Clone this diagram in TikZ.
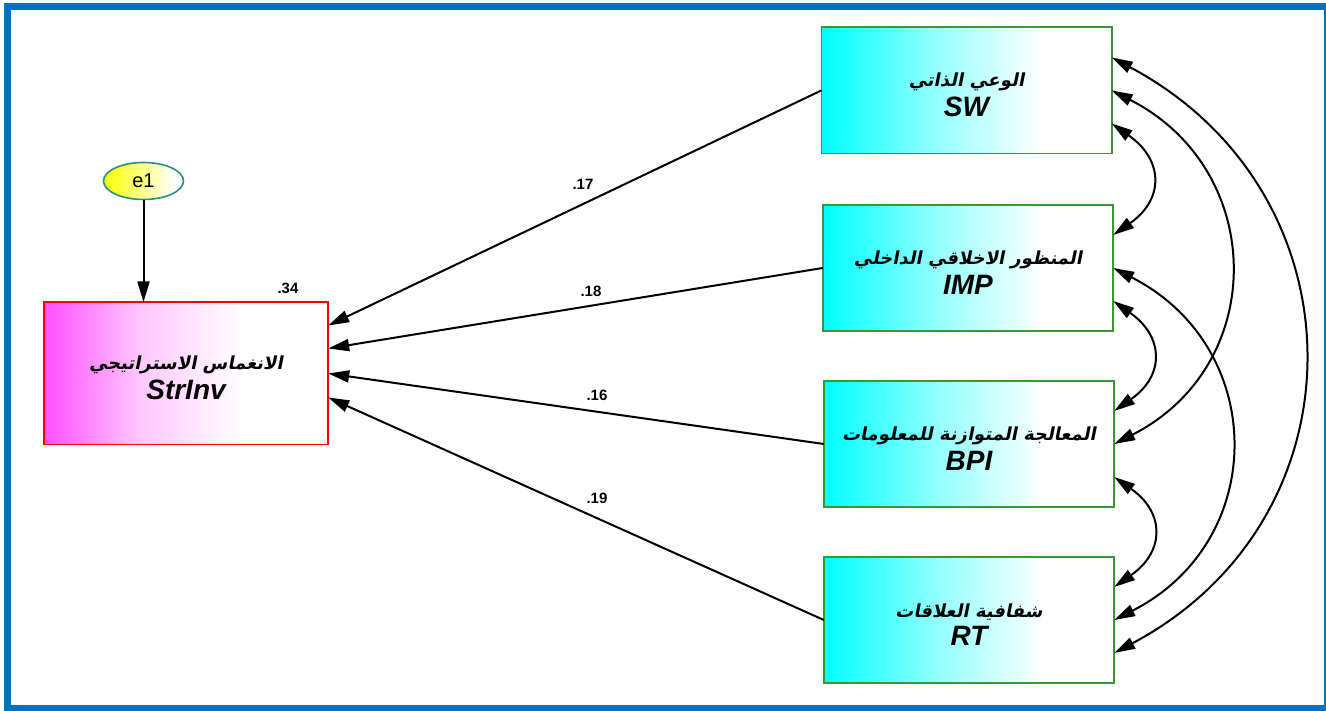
\documentclass[tikz,border=0pt]{standalone}
\usepackage{fontspec}
\setmainfont{Liberation Sans}
\TeXXeTstate=1
\newfontfamily\arabicfont[Script=Arabic,FakeSlant=0.2]{DejaVu Sans Bold}
\usetikzlibrary{arrows.meta,shapes.geometric,calc}

\definecolor{frameblue}{RGB}{0,112,192}
\definecolor{boxgreen}{RGB}{58,150,58}
\definecolor{magfill}{RGB}{255,80,255}
\definecolor{magmid}{RGB}{255,200,255}
\definecolor{cyanmid}{RGB}{150,255,255}
\definecolor{ellteal}{RGB}{40,140,140}

% left-to-right fades (25bp..75bp spans the shaded path)
\pgfdeclarehorizontalshading{cyanfade}{100bp}{color(0bp)=(cyan); color(25bp)=(cyan); color(45bp)=(cyanmid); color(63bp)=(white); color(100bp)=(white)}
\pgfdeclarehorizontalshading{magfade}{100bp}{color(0bp)=(magfill); color(25bp)=(magfill); color(42bp)=(magmid); color(60bp)=(white); color(100bp)=(white)}
\pgfdeclarehorizontalshading{yelfade}{100bp}{color(0bp)=(yellow); color(25bp)=(yellow); color(70bp)=(white); color(100bp)=(white)}

\newcommand\artxt[1]{{\arabicfont\fontsize{18}{21}\selectfont\rule{0pt}{23pt}\beginR #1\endR}}
\newcommand\entxt[1]{{\fontsize{28}{30}\selectfont\bfseries\itshape #1}}

\begin{document}
\begin{tikzpicture}[x=1pt,y=1pt,
  varbox/.style={rectangle, shade, shading=cyanfade,
    minimum width=290pt, minimum height=126pt, inner sep=0pt, align=center},
  depbox/.style={rectangle, shade, shading=magfade,
    minimum width=284pt, minimum height=142pt, inner sep=0pt, align=center},
  errnode/.style={ellipse, shade, shading=yelfade,
    minimum width=80pt, minimum height=37pt, inner sep=0pt, font=\fontsize{20}{20}\selectfont},
  greenedge/.style={draw=boxgreen, line width=1.6pt},
  rededge/.style={draw=red, line width=1.6pt},
  tealedge/.style={draw=ellteal, line width=1.6pt},
  regarrow/.style={line width=2pt, -{Triangle[length=21pt,width=12pt]}},
  covarrow/.style={line width=2pt, {Triangle[length=21pt,width=12pt]}-{Triangle[length=21pt,width=12pt]}},
  coef/.style={font=\fontsize{15}{15}\selectfont\bfseries, inner sep=0pt}]

\useasboundingbox (0,0) rectangle (1326,711);
\fill[white] (0,0) rectangle (1326,711);
\draw[frameblue, line width=6.5pt] (7.5,704.5) rectangle (1327,3);

% variables
\node[depbox] (strinv) at (186,337.5) {\artxt{الانغماس الاستراتيجي}\\[5pt]\entxt{StrInv}};
\node[varbox] (swv)  at (966.5,620.5) {\artxt{الوعي الذاتي}\\[5pt]\entxt{SW}};
\node[varbox] (impv) at (968,443)  {\artxt{المنظور الاخلاقي الداخلي}\\[5pt]\entxt{IMP}};
\node[varbox] (bpiv) at (969,267)  {\artxt{المعالجة المتوازنة للمعلومات}\\[5pt]\entxt{BPI}};
\node[varbox] (rtv)  at (969,91)   {\artxt{شفافية العلاقات}\\[5pt]\entxt{RT}};
\node[errnode] (e1) at (143.5,530) {e1};

% outlines
\draw[rededge] (strinv.south west) rectangle (strinv.north east);
\foreach \vname in {swv,impv,bpiv,rtv}
  \draw[greenedge] (\vname.south west) rectangle (\vname.north east);
\draw[tealedge] (e1.center) ellipse [x radius=40pt, y radius=18.5pt];

% coefficients
\node[coef] (r2)  at (288,423) {.34};
\node[coef] (c17) at (583,527) {.17};
\node[coef] (c18) at (591,420) {.18};
\node[coef] (c16) at (597,316) {.16};
\node[coef] (c19) at (597,213) {.19};

% arrow ends on the dependent box
\coordinate (in1) at ($(strinv.east)+(0,48)$);
\coordinate (in2) at ($(strinv.east)+(0,25)$);
\coordinate (in3) at ($(strinv.east)+(0,0)$);
\coordinate (in4) at ($(strinv.east)+(0,-24)$);

\draw[regarrow] (e1.south) -- (e1.south |- strinv.north);
\draw[regarrow] (swv.west)  -- (in1);
\draw[regarrow] (impv.west) -- (in2);
\draw[regarrow] (bpiv.west) -- (in3);
\draw[regarrow] (rtv.west)  -- (in4);

% covariance anchors on the right edges
\foreach \vname in {swv,impv,bpiv,rtv}{
  \coordinate (\vname a) at ($(\vname.east)+(0,33)$);
  \coordinate (\vname b) at ($(\vname.east)+(0,0)$);
  \coordinate (\vname c) at ($(\vname.east)+(0,-33)$);
}

\draw[covarrow] (swvc)  to[out=-35,in=35,distance=63pt]  (impva);
\draw[covarrow] (impvc) to[out=-35,in=35,distance=62pt]  (bpiva);
\draw[covarrow] (bpivc) to[out=-35,in=35,distance=62pt]  (rtva);
\draw[covarrow] (swvb)  to[out=-27,in=27,distance=174pt] (bpivb);
\draw[covarrow] (impvb) to[out=-27,in=27,distance=174pt] (rtvb);
\draw[covarrow] (swva)  to[out=-28,in=28,distance=287pt] (rtvc);

\end{tikzpicture}
\end{document}
